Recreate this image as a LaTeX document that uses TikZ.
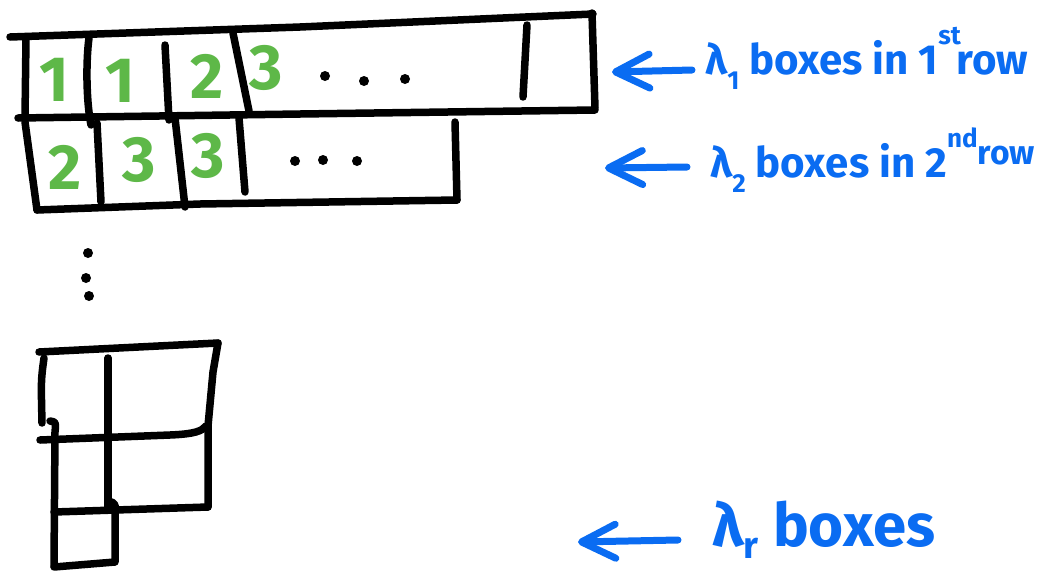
\documentclass[tikz,border=0pt]{standalone}
\usepackage{fontspec}
\setmainfont{Fira Sans}
\usetikzlibrary{arrows.meta}
\definecolor{penblue}{RGB}{10,108,242}
\definecolor{pengreen}{RGB}{94,184,72}
\newcommand{\lsub}[2][0.38em]{\raisebox{-#1}{\scalebox{0.62}{#2}}}
\newcommand{\lsup}[1]{\raisebox{0.7em}{\scalebox{0.62}{#1}}}
\begin{document}
\begin{tikzpicture}[x=1pt,y=-1pt,
  stroke/.style={line width=7.5pt,line cap=round,line join=round},
  digit/.style={text=pengreen,font=\fontsize{64}{64}\selectfont\bfseries,inner sep=0pt},
  dot/.style={fill=black,circle,inner sep=0pt,minimum size=10pt},
  handnote/.style={text=penblue,font=\fontsize{42}{42}\selectfont\bfseries,anchor=base west,inner sep=0pt},
  pointer/.style={penblue,line width=7pt,line cap=round,
    -{Straight Barb[round,length=34pt,width=34pt]}}]
\useasboundingbox (0,0) rectangle (1045,571);

% ---- first row ----
\draw[stroke] (10,37) -- (300,27) -- (593,14);
\draw[stroke] (592,13) -- (595,108);
\draw[stroke] (26,38) -- (25,118);
\draw[stroke] (18,118) -- (300,114) -- (595,110);
\draw[stroke] (89,38) .. controls (86,60) and (86,100) .. (91,125);
\draw[stroke] (165,45) -- (169,120);
\draw[stroke] (233,33) -- (249,111);
\draw[stroke] (527,25) -- (523,97);

% ---- second row ----
\draw[stroke] (25,122) -- (37,210);
\draw[stroke] (37,210) -- (200,204) -- (457,200);
\draw[stroke] (455,122) -- (457,200);
\draw[stroke] (97,123) -- (101,202);
\draw[stroke] (175,118) -- (185,207);
\draw[stroke] (239,118) -- (245,192);

% ---- entries ----
\node[digit] (a11) at (54,80) {1};
\node[digit] (a12) at (120,81) {1};
\node[digit] (a13) at (207,76) {2};
\node[digit] (a14) at (266,68) {3};
\node[digit] (a21) at (65,167) {2};
\node[digit] (a22) at (139,160) {3};
\node[digit] (a23) at (208,156) {3};

% ---- dots ----
\node[dot] (r1d1) at (325,76) {};
\node[dot] (r1d2) at (364,81) {};
\node[dot] (r1d3) at (405,79) {};
\node[dot] (r2d1) at (295,161) {};
\node[dot] (r2d2) at (323,160) {};
\node[dot] (r2d3) at (357,161) {};
\node[dot] (vd1) at (88,253) {};
\node[dot] (vd2) at (86,278) {};
\node[dot] (vd3) at (89,296) {};

% ---- last rows ----
\draw[stroke] (39,352) -- (218,343);
\draw[stroke] (218,343) -- (213,372) -- (208,426) -- (208,507);
\draw[stroke] (44,358) .. controls (41,380) .. (42,423);
\draw[stroke] (50,421) .. controls (56,422) .. (55,432) -- (54,566);
\draw[stroke] (40,440) -- (170,435) .. controls (195,434) and (202,431) .. (206,426);
\draw[stroke] (108,358) -- (108,507);
\draw[stroke] (54,512) -- (208,507);
\draw[stroke] (112,502) -- (115,505) -- (115,562) -- (54,567);

% ---- annotations ----
\node[handnote] (lab1) at (705,74)
  {λ\lsub{1} boxes in 1\lsup{st}\hspace{-0.1em}row};
\node[handnote] (lab2) at (710,177)
  {λ\lsub{2} boxes in 2\lsup{nd}\raisebox{0.3em}{\scalebox{0.8}{row}}};
\node[handnote,font=\fontsize{60}{60}\selectfont\bfseries] (lab3) at (712,546)
  {λ\lsub[0.2em]{r} boxes};

\coordinate (tail1) at (692,70);
\coordinate (tip1) at (612,72);
\coordinate (tail2) at (687,167);
\coordinate (tip2) at (605,168);
\coordinate (tail3) at (678,540);
\coordinate (tip3) at (578,542);
\draw[pointer] (tail1) -- (tip1);
\draw[pointer] (tail2) -- (tip2);
\draw[pointer] (tail3) -- (tip3);
\end{tikzpicture}
\end{document}
